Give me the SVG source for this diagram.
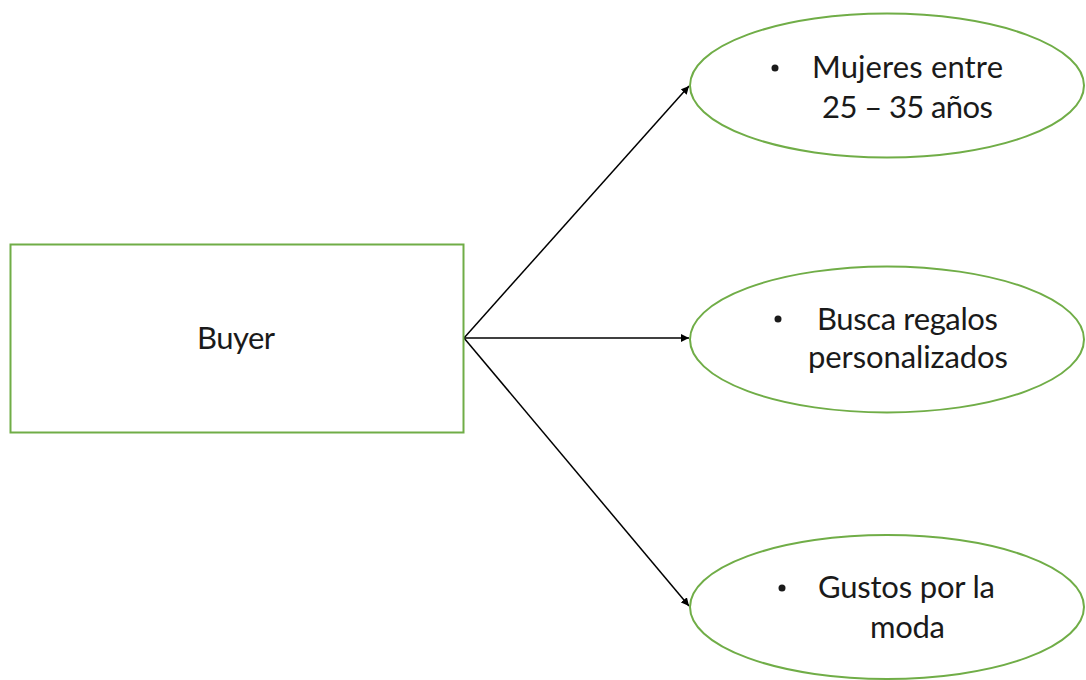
<svg xmlns="http://www.w3.org/2000/svg" width="1086" height="680" viewBox="0 0 1086 680">
<style>
.box{fill:#fff;stroke:#70ad47;stroke-width:2}
.t{font-family:Lato,"Liberation Sans",sans-serif;font-size:31px;fill:#1a1a1a}
.b{fill:#1a1a1a}
.c{stroke:#000;stroke-width:1.5;fill:none;marker-end:url(#ah)}
</style>
<defs>
<marker id="ah" viewBox="0 0 10 10" refX="10" refY="5" markerWidth="8" markerHeight="8" markerUnits="userSpaceOnUse" orient="auto">
<path d="M0,0 L10,5 L0,10 z" fill="#000"/>
</marker>
</defs>
<rect width="1086" height="680" fill="#fff"/>
<g id="connectors">
<line class="c" x1="464" y1="338" x2="689" y2="86"/>
<line class="c" x1="464" y1="338" x2="689" y2="338"/>
<line class="c" x1="464" y1="338" x2="689" y2="606"/>
</g>
<g id="buyer">
<rect class="box" x="10.5" y="244.5" width="453" height="188"/>
<text class="t" x="236" y="349" text-anchor="middle" textLength="78">Buyer</text>
</g>
<g id="node1">
<ellipse class="box" cx="887" cy="85.5" rx="197" ry="72"/>
<circle class="b" cx="775" cy="68" r="3.5"/>
<text class="t" x="812" y="78" textLength="191">Mujeres entre</text>
<text class="t" x="822" y="118" textLength="171">25 – 35 años</text>
</g>
<g id="node2">
<ellipse class="box" cx="887" cy="339.5" rx="197" ry="73"/>
<circle class="b" cx="778" cy="319" r="3.5"/>
<text class="t" x="817" y="330" textLength="181">Busca regalos</text>
<text class="t" x="808" y="368" textLength="200">personalizados</text>
</g>
<g id="node3">
<ellipse class="box" cx="887" cy="607" rx="197" ry="72"/>
<circle class="b" cx="782" cy="588" r="3.5"/>
<text class="t" x="818" y="598" textLength="177">Gustos por la</text>
<text class="t" x="870" y="638" textLength="75">moda</text>
</g>
</svg>
